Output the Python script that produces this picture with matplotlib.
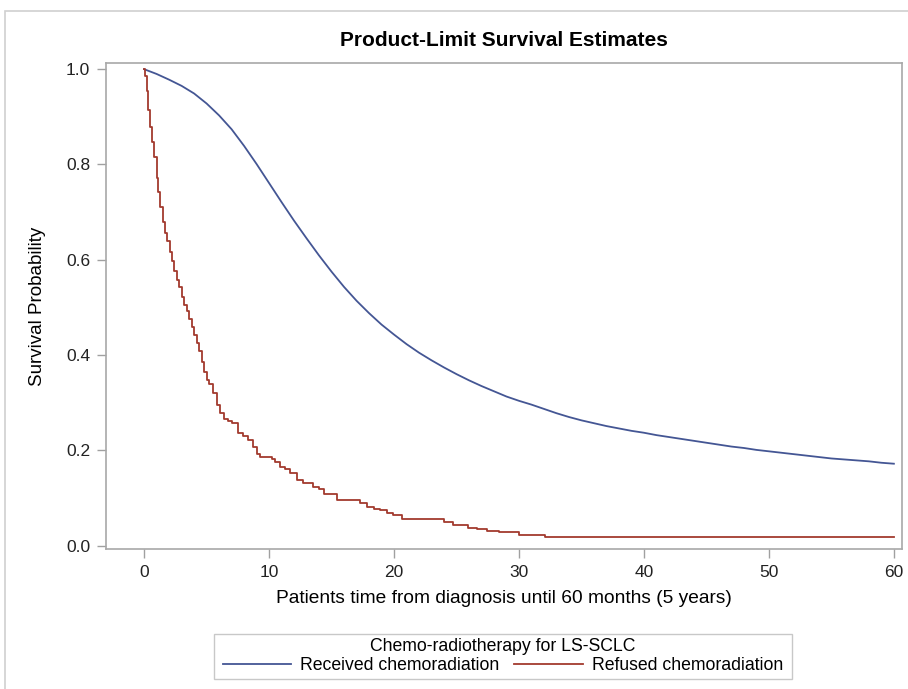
import matplotlib.pyplot as plt
from matplotlib.patches import Rectangle

plt.rcParams['font.family'] = ['Liberation Sans', 'DejaVu Sans']

# Received chemoradiation (monthly KM estimates)
recv_months = list(range(0, 61))
recv_surv = [1.000, 0.990, 0.978, 0.965, 0.949, 0.928, 0.903, 0.874, 0.839, 0.801,
             0.761, 0.721, 0.682, 0.645, 0.609, 0.575, 0.543, 0.514, 0.488, 0.464,
             0.443, 0.423, 0.405, 0.389, 0.374, 0.360, 0.347, 0.335, 0.324, 0.313,
             0.304, 0.296, 0.287, 0.278, 0.270, 0.263, 0.257, 0.251, 0.246, 0.241,
             0.237, 0.232, 0.228, 0.224, 0.220, 0.216, 0.212, 0.208, 0.205, 0.201,
             0.198, 0.195, 0.192, 0.189, 0.186, 0.183, 0.181, 0.179, 0.177, 0.174,
             0.172]

# Refused chemoradiation (step times and survival)
ref_months = [0, 0.1, 0.2, 0.35, 0.5, 0.65, 0.8, 1.0, 1.15, 1.3, 1.5, 1.7, 1.85, 2.05,
              2.2, 2.4, 2.6, 2.8, 3.0, 3.2, 3.4, 3.6, 3.8, 4.0, 4.2, 4.4, 4.6, 4.8,
              5.0, 5.2, 5.5, 5.8, 6.1, 6.4, 6.7, 7.0, 7.5, 7.9, 8.3, 8.7, 9.0, 9.3,
              10.2, 10.5, 10.9, 11.3, 11.7, 12.2, 12.7, 13.5, 14.0, 14.4, 15.4, 17.3,
              17.8, 18.4, 18.9, 19.4, 19.9, 20.6, 24.0, 24.7, 25.9, 26.6, 27.4, 28.4,
              30.0, 32.1, 60]
ref_surv = [1.0, 0.985, 0.955, 0.915, 0.878, 0.848, 0.815, 0.772, 0.742, 0.710, 0.680,
            0.656, 0.640, 0.616, 0.598, 0.576, 0.558, 0.543, 0.522, 0.505, 0.492,
            0.476, 0.458, 0.443, 0.425, 0.408, 0.386, 0.365, 0.348, 0.340, 0.320,
            0.296, 0.278, 0.266, 0.262, 0.257, 0.236, 0.230, 0.222, 0.208, 0.192,
            0.187, 0.182, 0.176, 0.166, 0.160, 0.152, 0.138, 0.132, 0.124, 0.118,
            0.108, 0.096, 0.090, 0.082, 0.078, 0.074, 0.068, 0.064, 0.056, 0.050,
            0.044, 0.038, 0.034, 0.030, 0.028, 0.023, 0.019, 0.019]

x_ticks = [0, 10, 20, 30, 40, 50, 60]
y_ticks = [0.0, 0.2, 0.4, 0.6, 0.8, 1.0]
labels = ['Received chemoradiation', 'Refused chemoradiation']
colors = ['#445694', '#A23A2E']

W, H = 908, 689
fig = plt.figure(figsize=(W / 100, H / 100), dpi=100)
ax = fig.add_axes([106 / W, 1 - 549 / H, 796 / W, 486 / H])

# outer frame of the graph
fig.patches.append(Rectangle((5 / W, -0.1), 1.2, 1 - 11 / H + 0.1,
                             transform=fig.transFigure, fill=False,
                             edgecolor='#d0d0d0', linewidth=1.2))
# legend box
fig.patches.append(Rectangle((214 / W, 1 - 679 / H), 578 / W, 45 / H,
                             transform=fig.transFigure, fill=False,
                             edgecolor='#c8c8c8', linewidth=1.0))

ax.plot(recv_months, recv_surv, color=colors[0], lw=1.3, label=labels[0])
ax.plot(ref_months, ref_surv, color=colors[1], lw=1.3, drawstyle='steps-post',
        label=labels[1])

ax.set_xlim(-3.05, 60.65)
ax.set_ylim(-0.007, 1.013)
ax.set_xticks(x_ticks)
ax.set_yticks(y_ticks)
ax.set_yticklabels([f'{v:.1f}' for v in y_ticks])
ax.tick_params(direction='out', length=6.5, width=1, color='#a0a0a0', pad=5,
               labelsize=12.5, labelcolor='#222222')
for s in ax.spines.values():
    s.set_color('#a8a8a8')
    s.set_linewidth(1.2)

ax.set_title('Product-Limit Survival Estimates', fontsize=15, fontweight='bold',
             pad=12)
ax.set_xlabel('Patients time from diagnosis until 60 months (5 years)', fontsize=13.8,
              labelpad=7)
ax.set_ylabel('Survival Probability', fontsize=13.5, labelpad=14)

leg = fig.legend(loc='center', bbox_to_anchor=(503 / W, 1 - 656 / H), ncol=2,
                 title='Chemo-radiotherapy for LS-SCLC', fontsize=12.7,
                 title_fontsize=12.7, frameon=False,
                 handlelength=3.9, columnspacing=0.85, handletextpad=0.5,
                 borderpad=0.15, labelspacing=0.1, borderaxespad=0)

fig.savefig('out.png', dpi=100)
